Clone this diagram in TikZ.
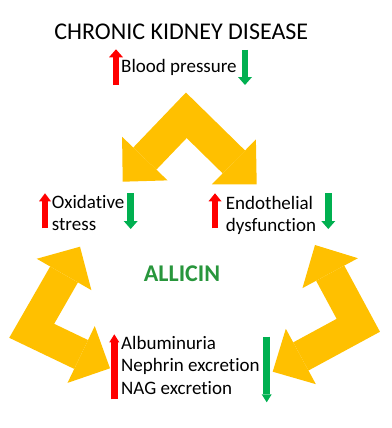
\documentclass[tikz,border=0pt]{standalone}
\usepackage{fontspec}
\setmainfont{Carlito}[Ligatures=CommonOff]
\usetikzlibrary{arrows.meta}

\definecolor{ckdyellow}{RGB}{255,192,0}
\definecolor{ckdred}{RGB}{255,0,0}
\definecolor{ckdgreen}{RGB}{0,176,80}
\definecolor{allicingreen}{RGB}{40,150,60}

\begin{document}
\begin{tikzpicture}[
  x=1pt, y=-1pt,
  every node/.style={
    inner sep=0pt,
    font=\fontsize{19}{22.5}\selectfont
  },
  item/.style={anchor=base west, align=left},
  block/.style={
    draw=ckdyellow, line width=32pt, line join=miter,
    {Triangle[width=63pt,length=32pt,line width=0pt]}-{Triangle[width=63pt,length=32pt,line width=0pt]}
  },
  uparrow/.style={draw=ckdred, line width=6.5pt, -{Triangle[width=#1,length=8pt,line width=0pt]}},
  uparrow/.default=14pt,
  downarrow/.style={draw=ckdgreen, line width=6.5pt, -{Triangle[width=#1,length=8pt,line width=0pt]}},
  downarrow/.default=14pt
]
\useasboundingbox (0,0) rectangle (391,428);

% texts (base = last line)
\node (ckd) [anchor=base, font=\fontsize{24}{28}\selectfont] at (181.3,39.3) {CHRONIC KIDNEY DISEASE};
\node (bp) [item] at (121,72.3) {Blood pressure};
\node (oxid) [item] at (51.7,230.8) {Oxidative\\stress};
\node (endo) [item] at (225.7,231.5) {Endothelial\\dysfunction};
\node (allicin) [anchor=base, text=allicingreen, font=\fontsize{24}{28}\selectfont\bfseries] at (182,281) {ALLICIN};
\node (renal) [item] at (121,394.3) {Albuminuria\\Nephrin excretion\\NAG excretion};

% yellow block arrows
\coordinate (oxtip) at (122.7,181.7);
\coordinate (bpsplit) at (186.3,115.3);
\coordinate (endotip) at (256.7,184.3);
\coordinate (oxback) at (80,246.7);
\coordinate (leftbend) at (31.7,330.8);
\coordinate (renalleft) at (110,368.3);
\coordinate (endoback) at (315,245);
\coordinate (rightbend) at (358.3,325.3);
\coordinate (renalright) at (272.7,371.7);

\draw[block] (oxtip) -- (bpsplit) -- (endotip);
\draw[block] (oxback) -- (leftbend) -- (renalleft);
\draw[block] (endoback) -- (rightbend) -- (renalright);

% up / down markers
\draw[uparrow] (116,85) -- (116,49.3);
\draw[downarrow] (245,50) -- (245,85);
\draw[uparrow=12pt] (45,228.3) -- (45,193.3);
\draw[downarrow] (130.7,193.3) -- (130.7,229);
\draw[uparrow=13pt] (215,228.3) -- (215,193.3);
\draw[downarrow] (328.3,193.3) -- (328.3,229);
\draw[uparrow=10pt] (114.3,399.3) -- (114.3,334.3);
\draw[downarrow=10pt] (266.7,336.7) -- (266.7,402.3);
\end{tikzpicture}
\end{document}
